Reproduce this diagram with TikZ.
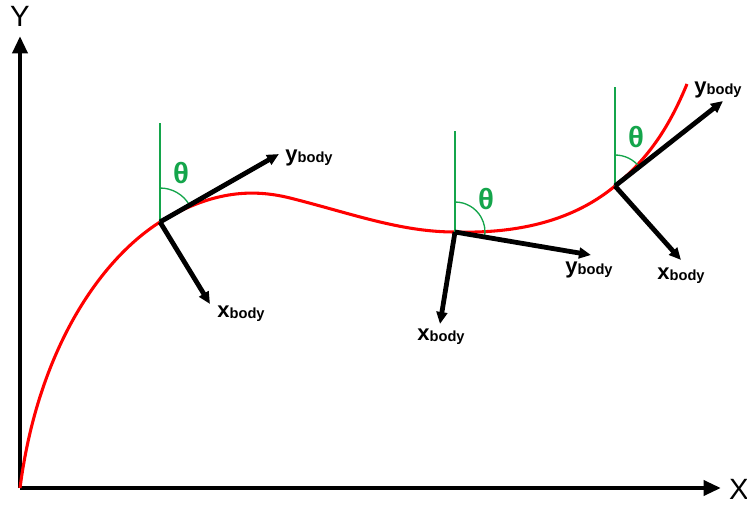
\documentclass[tikz,border=0pt]{standalone}
\usepackage{fontspec}
\setmainfont{Liberation Sans}
\usetikzlibrary{arrows.meta}
\definecolor{curvered}{RGB}{255,0,0}
\definecolor{anglegreen}{RGB}{20,165,75}
\tikzset{
	axis/.style={line width=3.6pt, -{Triangle[length=13pt,width=11pt]}},
	bodyaxis/.style={line width=3.6pt, -{Triangle[length=9pt,width=8pt]}},
	vertline/.style={anglegreen, line width=1pt},
	anglearc/.style={anglegreen, line width=1pt},
	thetalabel/.style={anglegreen, font=\fontsize{22}{22}\selectfont\bfseries},
	bodylabel/.style={inner sep=0.75pt}
}
\newcommand{\ybody}{{\fontsize{16.5}{16.5}\selectfont\bfseries y\raisebox{-1pt}{\fontsize{11}{11}\selectfont body}}}
\newcommand{\xbody}{{\fontsize{16.5}{16.5}\selectfont\bfseries x\raisebox{-1pt}{\fontsize{11}{11}\selectfont body}}}
\begin{document}
\begin{tikzpicture}[x=0.75pt,y=0.75pt,yscale=-1,xscale=1]
	\useasboundingbox (0,0) rectangle (747,507);
	%Axes
	\coordinate (origin) at (20,488);
	\coordinate (ytop) at (20,36);
	\coordinate (xend) at (721,488);
	\draw [axis] (origin) -- (ytop) ;
	\draw [axis] (origin) -- (xend) ;
	\draw (20,16) node [font=\fontsize{22}{22}\selectfont] (ylab) {Y};
	\draw (739,489) node [font=\fontsize{22}{22}\selectfont] (xlab) {X};
	%Curve Lines
	\draw [color=curvered, line width=2.3pt] (origin) .. controls (38,350) and (100,260) .. (160,222) .. controls (210,192) and (250,188) .. (290,198) .. controls (350,213) and (400,232) .. (455,232) .. controls (530,234) and (580,215) .. (615,186) .. controls (650,157) and (670,125) .. (687,84) ;
	%Frame 1
	\coordinate (o1) at (160,222);
	\coordinate (v1) at (160,123);
	\coordinate (y1) at (279,154);
	\coordinate (x1) at (210,304);
	\draw [vertline] (o1) -- (v1) ;
	\draw [anglearc] (o1) ++(0,-34) arc [start angle=-90, end angle=-29.6, radius=34] ;
	\draw [bodyaxis] (o1) -- (y1) ;
	\draw [bodyaxis] (o1) -- (x1) ;
	\draw (181,173) node [thetalabel] (t1) {θ};
	\draw (309,158) node [bodylabel] (yl1) {\ybody};
	\draw (241,314) node [bodylabel] (xl1) {\xbody};
	%Frame 2
	\coordinate (o2) at (455,232);
	\coordinate (v2) at (455,131);
	\coordinate (y2) at (591,255);
	\coordinate (x2) at (440,324);
	\draw [vertline] (o2) -- (v2) ;
	\draw [anglearc] (o2) ++(0,-30) arc [start angle=-90, end angle=10.1, radius=30] ;
	\draw [bodyaxis] (o2) -- (y2) ;
	\draw [bodyaxis] (o2) -- (x2) ;
	\draw (486,199) node [thetalabel] (t2) {θ};
	\draw (589,270) node [bodylabel] (yl2) {\ybody};
	\draw (441,337) node [bodylabel] (xl2) {\xbody};
	%Frame 3
	\coordinate (o3) at (615,186);
	\coordinate (v3) at (615,87);
	\coordinate (y3) at (723,101);
	\coordinate (x3) at (681,260);
	\draw [vertline] (o3) -- (v3) ;
	\draw [anglearc] (o3) ++(0,-31) arc [start angle=-90, end angle=-38.1, radius=31] ;
	\draw [bodyaxis] (o3) -- (y3) ;
	\draw [bodyaxis] (o3) -- (x3) ;
	\draw (636,137) node [thetalabel] (t3) {θ};
	\draw (718,90) node [bodylabel] (yl3) {\ybody};
	\draw (681,276) node [bodylabel] (xl3) {\xbody};
\end{tikzpicture}
\end{document}
